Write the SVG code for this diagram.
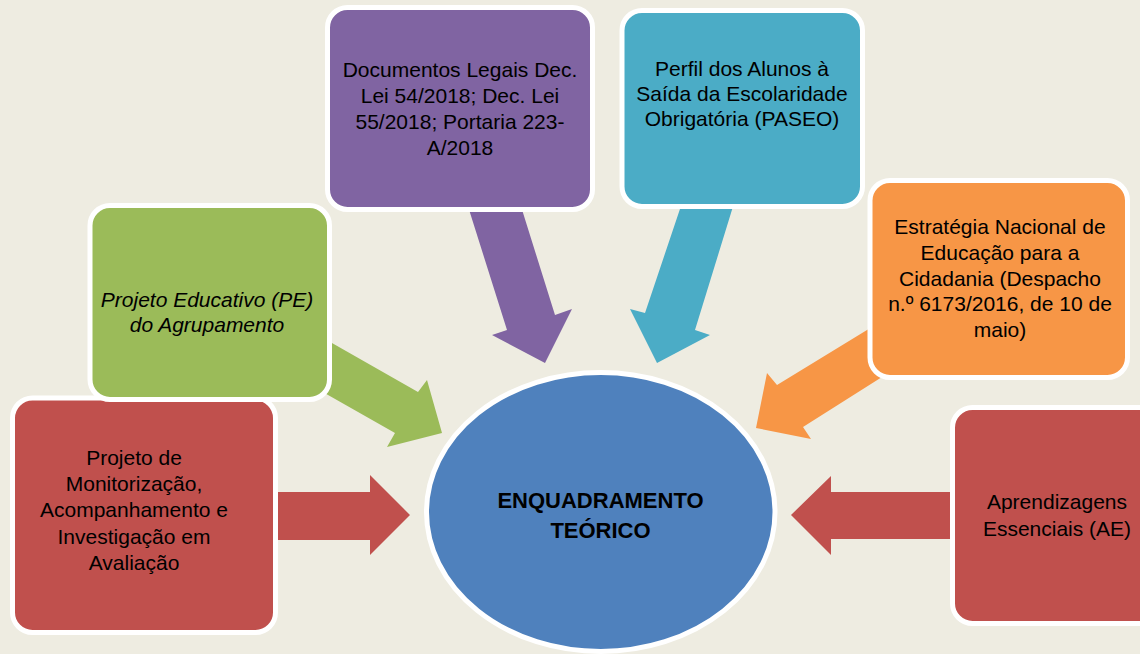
<svg xmlns="http://www.w3.org/2000/svg" width="1140" height="654" viewBox="0 0 1140 654">
<style>
.box{stroke:#FFFFFF;stroke-width:5}
.t{font-family:"Liberation Sans",Arial,sans-serif;font-size:21px;fill:#000;text-anchor:middle}
.b{font-weight:bold;font-size:22px}
.i{font-style:italic}
</style>
<rect x="0" y="0" width="1140" height="654" fill="#EEECE1"/>
<g id="connectors">
<polygon fill="#C0504D" points="260,492 370,492 370,475 410,515 370,555 370,540 260,540"/>
<polygon fill="#C0504D" points="970,492 831,492 831,476 791,515 831,555 831,539 970,539"/>
<polygon fill="#9BBB59" points="310,330.5 418,392 427,380 442,433 387,447 395,433 310,384.7"/>
<polygon fill="#8064A2" points="466,200 507,330 492,335 545,363 572,309 555,315 519,200"/>
<polygon fill="#4BACC6" points="683,200 645,313 630,309 657,363 710,335 695,330 735,200"/>
<polygon fill="#F79646" points="885,319 777,385 767,373 756,428 811,439 803,427 882,377"/>
</g>
<g id="node-monitorizacao">
<rect class="box" x="12.5" y="398" width="263" height="234.5" rx="20" fill="#C0504D"/>
<text class="t" x="134" y="465">Projeto de</text>
<text class="t" x="134" y="491">Monitorização,</text>
<text class="t" x="134" y="517">Acompanhamento e</text>
<text class="t" x="134" y="544">Investigação em</text>
<text class="t" x="134" y="570">Avaliação</text>
</g>
<g id="node-pe">
<rect class="box" x="90" y="205.5" width="239.5" height="194" rx="20" fill="#9BBB59"/>
<text class="t i" x="207" y="307">Projeto Educativo (PE)</text>
<text class="t i" x="207" y="332">do Agrupamento</text>
</g>
<g id="node-documentos">
<rect class="box" x="327.5" y="7.5" width="265" height="202" rx="20" fill="#8064A2"/>
<text class="t" x="460" y="77">Documentos Legais Dec.</text>
<text class="t" x="460" y="103">Lei 54/2018; Dec. Lei</text>
<text class="t" x="460" y="129">55/2018; Portaria 223-</text>
<text class="t" x="460" y="155">A/2018</text>
</g>
<g id="node-paseo">
<rect class="box" x="622" y="10.5" width="240.5" height="196" rx="20" fill="#4BACC6"/>
<text class="t" x="742" y="76">Perfil dos Alunos à</text>
<text class="t" x="742" y="101">Saída da Escolaridade</text>
<text class="t" x="742" y="126">Obrigatória (PASEO)</text>
</g>
<g id="node-estrategia">
<rect class="box" x="870" y="180.5" width="257.5" height="197" rx="20" fill="#F79646"/>
<text class="t" x="1000" y="234">Estratégia Nacional de</text>
<text class="t" x="1000" y="260">Educação para a</text>
<text class="t" x="1000" y="286">Cidadania (Despacho</text>
<text class="t" x="1000" y="311">n.º 6173/2016, de 10 de</text>
<text class="t" x="1000" y="337">maio)</text>
</g>
<g id="node-ae">
<rect class="box" x="952.5" y="407.5" width="230" height="216" rx="20" fill="#C0504D"/>
<text class="t" x="1057" y="509">Aprendizagens</text>
<text class="t" x="1057" y="536">Essenciais (AE)</text>
</g>
<g id="node-centro">
<ellipse class="box" cx="600.75" cy="512" rx="174.25" ry="139.5" fill="#4F81BD"/>
<text class="t b" x="600.5" y="508">ENQUADRAMENTO</text>
<text class="t b" x="600.5" y="538">TEÓRICO</text>
</g>
</svg>
